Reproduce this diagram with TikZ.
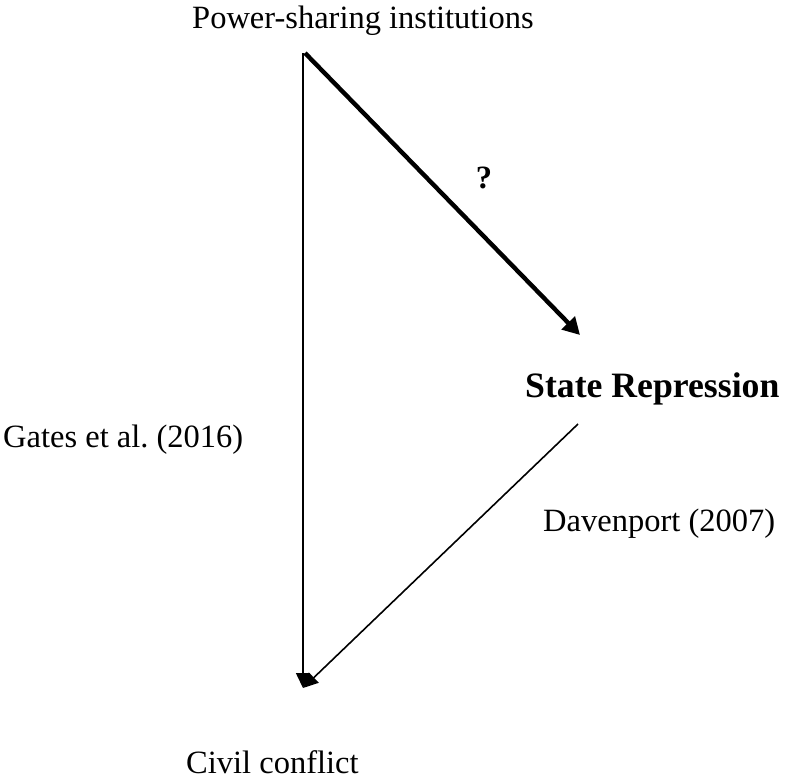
\documentclass[tikz,border=0pt]{standalone}
\usepackage{fontspec}
\setmainfont{Liberation Serif}
\usetikzlibrary{arrows.meta}
\frenchspacing
\tikzset{
  lbl/.style={inner sep=0pt, anchor=base west, font=\fontsize{32.5}{39}\selectfont},
  boldlbl/.style={inner sep=0pt, anchor=base west, font=\fontsize{35.7}{42}\selectfont\bfseries},
  thinarrow/.style={line width=1.6pt, -{Triangle[length=15pt,width=14pt]}},
  thickarrow/.style={line width=4.4pt, -{Triangle[length=17pt,width=18pt]}}
}
\begin{document}
\begin{tikzpicture}[x=1pt,y=-1pt]
\useasboundingbox (0,0) rectangle (788,779);
\node[lbl] (psi) at (192,28) {Power-sharing institutions};
\node[lbl] (gates) at (3,447) {Gates et al.\ (2016)};
\node[boldlbl] (sr) at (525,397) {State Repression};
\node[lbl] (dav) at (543,531) {Davenport (2007)};
\node[lbl] (cc) at (186,773) {Civil conflict};
\node[inner sep=0pt, anchor=base, font=\fontsize{32.5}{39}\selectfont\bfseries] (q) at (484,188) {?};
\coordinate (top) at (303,53);
\coordinate (topd) at (305,53);
\coordinate (srin) at (580,335);
\coordinate (srout) at (578,424);
\coordinate (ccin) at (303,688);
\draw[thinarrow] (top) -- (ccin);
\draw[thickarrow] (topd) -- (srin);
\draw[thinarrow] (srout) -- (ccin);
\end{tikzpicture}
\end{document}
